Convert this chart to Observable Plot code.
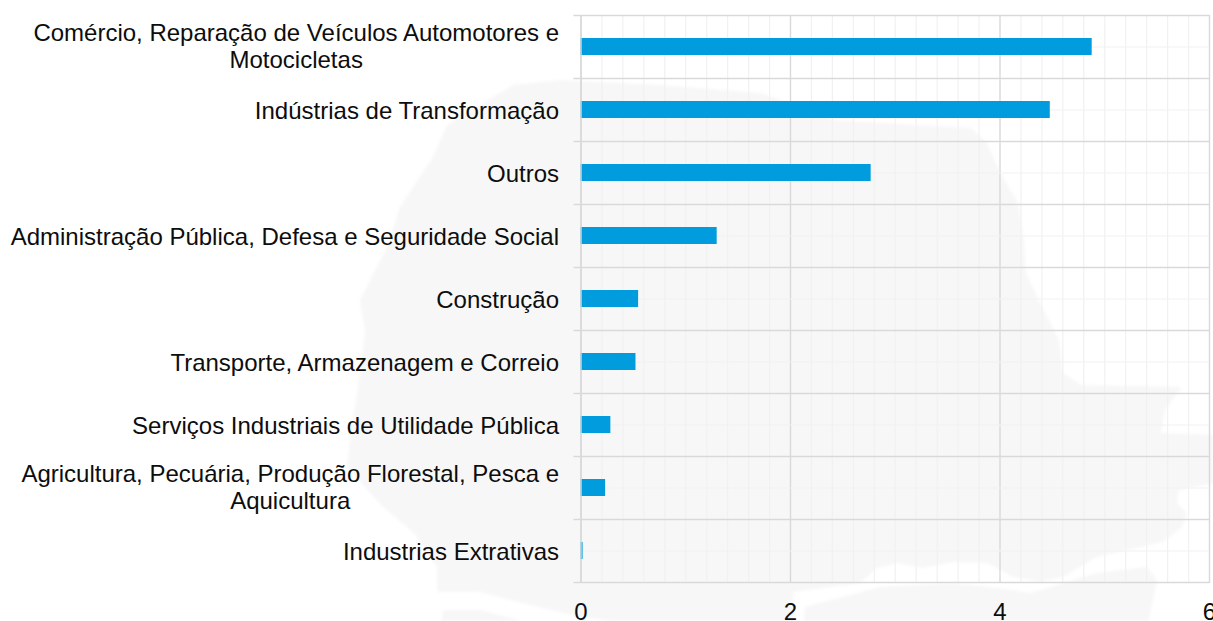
<!DOCTYPE html>
<html lang="pt">
<head>
<meta charset="utf-8">
<script src="https://cdn.jsdelivr.net/npm/d3@7"></script>
<script src="https://cdn.jsdelivr.net/npm/@observablehq/plot@0.6"></script>
<style>
  html, body { margin: 0; padding: 0; background: #fff; overflow: hidden; }
  #stage { position: relative; width: 1213px; height: 621px; overflow: hidden; }
  #wm { position: absolute; inset: 0; filter: blur(1.5px); }
  .watermark { position: absolute; inset: 0; background: #f7f7f7; }
  #wm1 { clip-path: polygon(560px 80px, 660px 85px, 760px 93px, 790px 103px, 833px 120px, 900px 124px, 971px 128px, 987px 143px, 999px 170px, 1018px 203px, 1024px 240px, 1026px 273px, 1042px 307px, 1059px 340px, 1063px 373px, 1081px 385px, 1182px 387px, 1165px 410px, 1161px 433px, 1220px 435px, 1220px 482px, 1179px 490px, 1177px 503px, 1187px 513px, 1182px 527px, 1163px 542px, 1113px 553px, 1097px 557px, 1080px 567px, 1063px 577px, 1040px 582px, 1013px 577px, 987px 563px, 953px 562px, 923px 568px, 897px 563px, 877px 568px, 867px 577px, 860px 583px, 793px 592px, 795px 630px, 613px 630px, 613px 621px, 580px 617px, 530px 605px, 480px 592px, 437px 592px, 437px 567px, 414px 533px, 383px 507px, 347px 467px, 350px 440px, 360px 373px, 365px 333px, 360px 300px, 387px 247px, 400px 207px, 433px 157px, 447px 125px, 513px 85px); }
  #wm2 { clip-path: polygon(803px 630px, 805px 607px, 880px 587px, 953px 583px, 1013px 590px, 1030px 593px, 1097px 573px, 1147px 567px, 1157px 580px, 1147px 630px); }
  #wm3 { clip-path: polygon(443px 610px, 480px 610px, 523px 621px, 540px 630px, 440px 630px); }
  #chart { position: absolute; left: 0; top: 0; }
  svg { background: transparent !important; }
</style>
</head>
<body>
<div id="stage">
  <div id="wm">
    <div class="watermark" id="wm1"></div>
    <div class="watermark" id="wm2"></div>
    <div class="watermark" id="wm3"></div>
  </div>
  <div id="chart"></div>
</div>
<script>
const categories = [
  "Comércio, Reparação de Veículos Automotores e\nMotocicletas",
  "Indústrias de Transformação",
  "Outros",
  "Administração Pública, Defesa e Seguridade Social",
  "Construção",
  "Transporte, Armazenagem e Correio",
  "Serviços Industriais de Utilidade Pública",
  "Agricultura, Pecuária, Produção Florestal, Pesca e\nAquicultura",
  "Industrias Extrativas"
];
const values = [4.88, 4.48, 2.77, 1.30, 0.55, 0.525, 0.285, 0.235, 0.02];
const majorTicks = [0, 2, 4, 6];
const minorTicks = d3.range(0, 31).map(i => i / 5).filter(v => !majorTicks.includes(v));
const rows = categories.map((category, i) => ({category, value: values[i]}));

const W = 1213, H = 621, mT = 15, mB = 38, mL = 580.5, mR = 4;
const halfStep = (H - mT - mB) / categories.length / 2;
const MAJOR = "#d9d9d9", MINOR = "#f1f1f1", FONT = "'Liberation Sans', Arial, sans-serif";

const plot = Plot.plot({
  width: W, height: H,
  marginTop: mT, marginBottom: mB, marginLeft: mL, marginRight: mR,
  style: {fontFamily: FONT, fontSize: "24px", color: "#0d0d0d", background: "transparent", overflow: "visible"},
  x: {domain: [0, 6], label: null},
  y: {domain: categories, paddingInner: 0.73, paddingOuter: 0.365, label: null},
  marks: [
    Plot.ruleX(minorTicks, {stroke: MINOR, strokeWidth: 1.2}),
    Plot.ruleX(majorTicks, {stroke: MAJOR, strokeWidth: 1.4}),
    Plot.ruleY(categories, {dy: -halfStep, stroke: MAJOR, strokeWidth: 1.4, x1: 0, x2: 6, insetLeft: -7}),
    Plot.ruleY(categories.slice(-1), {dy: halfStep, stroke: MAJOR, strokeWidth: 1.4, x1: 0, x2: 6, insetLeft: -7}),
    Plot.ruleY(categories, {stroke: MINOR, strokeWidth: 1.2, x1: 0, x2: 6}),
    Plot.barX(rows, {x: "value", y: "category", fill: "#009cde"}),
    Plot.ruleX([0], {stroke: MAJOR, strokeWidth: 1.4}),
    Plot.axisY({tickSize: 0, tickPadding: 22, lineHeight: 1.125, fontSize: 24, label: null, textOverflow: null}),
    Plot.axisX({ticks: majorTicks, tickSize: 0, tickPadding: 19, fontSize: 24, label: null, tickFormat: d3.format("d")})
  ]
});
document.getElementById("chart").appendChild(plot);

// Wrapped labels are centred under their first line, as in the reference.
plot.querySelectorAll("text").forEach(t => {
  const spans = t.querySelectorAll("tspan");
  if (spans.length === 2) {
    const w1 = spans[0].getComputedTextLength(), w2 = spans[1].getComputedTextLength();
    const x0 = +(spans[1].getAttribute("x") || 0);
    spans[1].setAttribute("x", x0 - (w1 - w2) / 2);
    t.setAttribute("transform", (t.getAttribute("transform") || "") + " translate(0,-1.2)");
  }
});
</script>
</body>
</html>
